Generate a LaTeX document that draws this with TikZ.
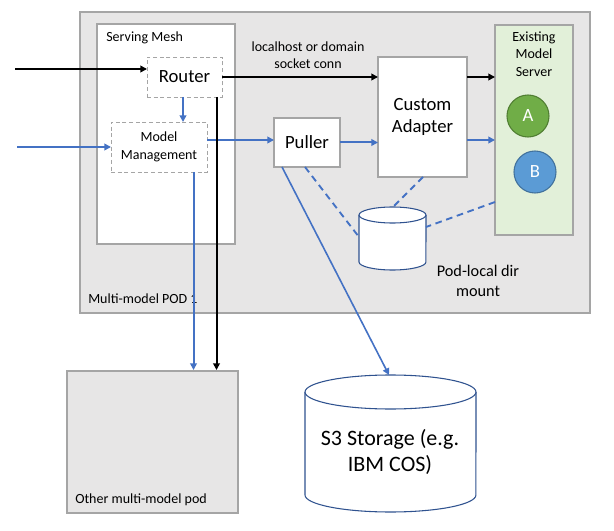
\documentclass[tikz,border=0pt]{standalone}
\usepackage{fontspec}
\setmainfont{Carlito}
\usetikzlibrary{arrows.meta,calc}
\definecolor{podgray}{HTML}{E7E6E6}
\definecolor{edgegray}{HTML}{A5A5A5}
\definecolor{obl}{HTML}{4472C4}
\definecolor{cylb}{HTML}{2F528F}
\definecolor{esmg}{HTML}{E2F0D9}
\definecolor{cA}{HTML}{70AD47}
\definecolor{cAe}{HTML}{507E32}
\definecolor{cB}{HTML}{5B9BD5}
\definecolor{cBe}{HTML}{41719C}
\tikzset{
  pbox/.style={draw=edgegray, line width=0.8pt, inner sep=0pt, outer sep=0pt},
  dbox/.style={draw=edgegray, dashed, dash pattern=on 3pt off 2pt, line width=0.7pt, fill=white, inner sep=0pt, outer sep=0pt, align=center},
  arrK/.style={black, line width=1.5pt, -{Triangle[length=5pt,width=5pt]}},
  arrB/.style={obl, line width=1.5pt, -{Triangle[length=5pt,width=5pt]}},
  dashB/.style={obl, line width=1.4pt, dash pattern=on 5pt off 3.5pt},
  circ/.style={circle, minimum size=31.5pt, inner sep=0pt, line width=0.8pt, text=white, font=\fontsize{14}{16}\selectfont},
  small/.style={font=\fontsize{10.5}{13}\selectfont, align=center, inner sep=0pt},
}
\begin{document}
\begin{tikzpicture}[x=0.75pt,y=-0.75pt]
\useasboundingbox (0,0) rectangle (614,531);
% outer pod
\node[pbox, fill=podgray, minimum width=382.5pt, minimum height=225.75pt] (pod) at (335,162.5) {};
\node[small, anchor=west] (podlbl) at (88,299) {Multi-model POD 1};
% serving mesh
\node[pbox, fill=white, minimum width=103.5pt, minimum height=165pt] (mesh) at (166,134) {};
\node[small, anchor=west] (meshlbl) at (106,38) {Serving Mesh};
% router & model management
\node[dbox, minimum width=56.25pt, minimum height=30pt, font=\fontsize{14}{16}\selectfont] (router) at (184.5,77) {Router};
\node[dbox, minimum width=72pt, minimum height=37.5pt, font=\fontsize{10.5}{13}\selectfont] (mm) at (159,147) {Model\\Management};
% puller, adapter
\node[pbox, fill=white, minimum width=49.5pt, minimum height=36.75pt, font=\fontsize{14}{16}\selectfont] (puller) at (307,142.5) {Puller};
\node[pbox, fill=white, minimum width=66.75pt, minimum height=90pt, font=\fontsize{14}{16.5}\selectfont, align=center] (adapter) at (422.5,117) {Custom\\Adapter};
% existing model server
\node[pbox, fill=esmg, minimum width=58.5pt, minimum height=157.5pt] (esm) at (534,130) {};
\node[small, font=\fontsize{10.5}{13.2}\selectfont] (esmlbl) at (534,54) {Existing\\Model\\Server};
\node[circ, fill=cA, draw=cAe] (ca) at (528,116) {A};
\node[circ, fill=cB, draw=cBe] (cb) at (535,172) {B};
% connector label
\node[small] (connlbl) at (308,55.5) {localhost or domain\\socket conn};
% pod-local cylinder
\draw[cylb, line width=0.8pt, fill=white] (359,215) -- (359,262) arc[start angle=180, end angle=360, x radius=25.1pt, y radius=6pt] -- (426,215);
\draw[cylb, line width=0.8pt, fill=white] (392.5,215) ellipse [x radius=25.1pt, y radius=6pt];
\coordinate (plL) at (359,237);
\coordinate (plT) at (393,207);
\coordinate (plR) at (426,227);
\node[font=\fontsize{12.2}{15.5}\selectfont, align=center, inner sep=0pt] (pllbl) at (478,281) {Pod-local dir\\mount};
% other pod
\node[pbox, fill=podgray, minimum width=128.25pt, minimum height=106.5pt] (other) at (152.5,442) {};
\node[small, anchor=west] (otherlbl) at (75,500) {Other multi-model pod};
% S3 cylinder
\draw[cylb, line width=0.8pt, fill=white] (305,392) -- (305,495) arc[start angle=180, end angle=360, x radius=64.1pt, y radius=12.75pt] -- (476,392);
\draw[cylb, line width=0.8pt, fill=white] (390.5,392) ellipse [x radius=64.1pt, y radius=12.75pt];
\coordinate (s3T) at (389,375);
\node[font=\fontsize{16.5}{19.5}\selectfont, align=center, inner sep=0pt] (s3lbl) at (390,452) {S3 Storage (e.g.\\IBM COS)};
% helper coordinates
\coordinate (inK) at (15,69);
\coordinate (inB) at (17,147);
\coordinate (yK) at (0,77);
\coordinate (yB) at (0,140);
\coordinate (xB) at (193.5,0);
\coordinate (xK) at (216.5,0);
\coordinate (xP) at (282,0);
\coordinate (xPd) at (305,0);
\coordinate (xAd) at (423,0);
\coordinate (yEd) at (0,202);
% connectors
\draw[arrK] (inK) -- (router.west |- inK);
\draw[arrB] (inB) -- (mm.west |- inB);
\draw[arrB] (router.south -| 183,0) -- (mm.north -| 183,0);
\draw[arrK] (router.east) -- (adapter.west |- router.east);
\draw[arrK] (adapter.east |- yK) -- (esm.west |- yK);
\draw[arrB] (mm.east |- yB) -- (puller.west |- yB);
\draw[arrB] (puller.east) -- (adapter.west |- puller.east);
\draw[arrB] (adapter.east |- yB) -- (esm.west |- yB);
\draw[arrB] (mm.south -| xB) -- ([yshift=0.75pt]other.north -| xB);
\draw[arrK] (router.south -| xK) -- ([yshift=0.75pt]other.north -| xK);
\draw[obl, line width=1.2pt, -{Triangle[length=5pt,width=5pt]}] (puller.south -| xP) -- (s3T);
\draw[dashB] (puller.south -| xPd) -- (plL);
\draw[dashB] (adapter.south -| xAd) -- (plT);
\draw[dashB] (esm.west |- yEd) -- (plR);
\end{tikzpicture}
\end{document}
